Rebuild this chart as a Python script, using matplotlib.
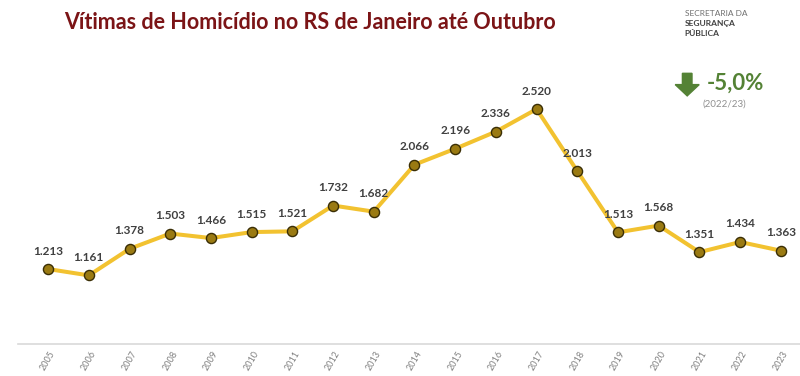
import matplotlib.pyplot as plt
from matplotlib.patches import FancyArrow

plt.rcParams['font.family'] = ['Lato', 'DejaVu Sans']

# data
anos = list(range(2005, 2024))
vitimas = [1213, 1161, 1378, 1503, 1466, 1515, 1521, 1732, 1682, 2066,
           2196, 2336, 2520, 2013, 1513, 1568, 1351, 1434, 1363]
rotulos = ["1.213", "1.161", "1.378", "1.503", "1.466", "1.515", "1.521", "1.732", "1.682", "2.066",
           "2.196", "2.336", "2.520", "2.013", "1.513", "1.568", "1.351", "1.434", "1.363"]

fig = plt.figure(figsize=(8, 3.76), dpi=100)
ax = fig.add_axes([0.0225, 0.085, 0.9775, 0.755])

ax.plot(anos, vitimas, color="#F2C230", lw=2.9, zorder=2,
        marker="o", ms=7.3, mfc="#9A7A12", mec="#3A2E05", mew=1.0)

for x, y, t in zip(anos, vitimas, rotulos):
    ax.annotate(t, (x, y), xytext=(0, 9), textcoords="offset points",
                ha="center", va="bottom", fontsize=8.5, fontweight="bold", color="#404040")

ax.set_xlim(2004.26, 2023.47)
ax.set_ylim(600, 2920)
ax.set_yticks([])
ax.set_xticks(anos)
ax.set_xticklabels([str(a) for a in anos], rotation=60, fontsize=6.5, color="#808080")
ax.tick_params(axis="x", length=0, pad=4)
for s in ["top", "right", "left"]:
    ax.spines[s].set_visible(False)
ax.spines["bottom"].set_color("#D9D9D9")
ax.spines["bottom"].set_linewidth(1.2)

fig.text(0.388, 0.94, "Vítimas de Homicídio no RS de Janeiro até Outubro", ha="center", va="center",
         fontsize=15.5, fontweight="bold", color="#7B1416")

# cabeçalho da secretaria
fig.text(0.856, 0.963, "SECRETARIA DA", fontsize=6, color="#707070", va="center")
fig.text(0.856, 0.937, "SEGURANÇA", fontsize=6, color="#404040", fontweight="bold", va="center")
fig.text(0.856, 0.912, "PÚBLICA", fontsize=6, color="#404040", fontweight="bold", va="center")

# variação
fig.patches.append(FancyArrow(0.859, 0.805, 0, -0.03, width=0.012, head_width=0.03,
                              head_length=0.03, length_includes_head=False,
                              color="#548235", transform=fig.transFigure, figure=fig))
fig.text(0.884, 0.78, "-5,0%", fontsize=16, fontweight="bold", color="#548235", va="center")
fig.text(0.905, 0.724, "(2022/23)", fontsize=7, color="#909090", ha="center", va="center")

fig.savefig("out.png", dpi=100)
